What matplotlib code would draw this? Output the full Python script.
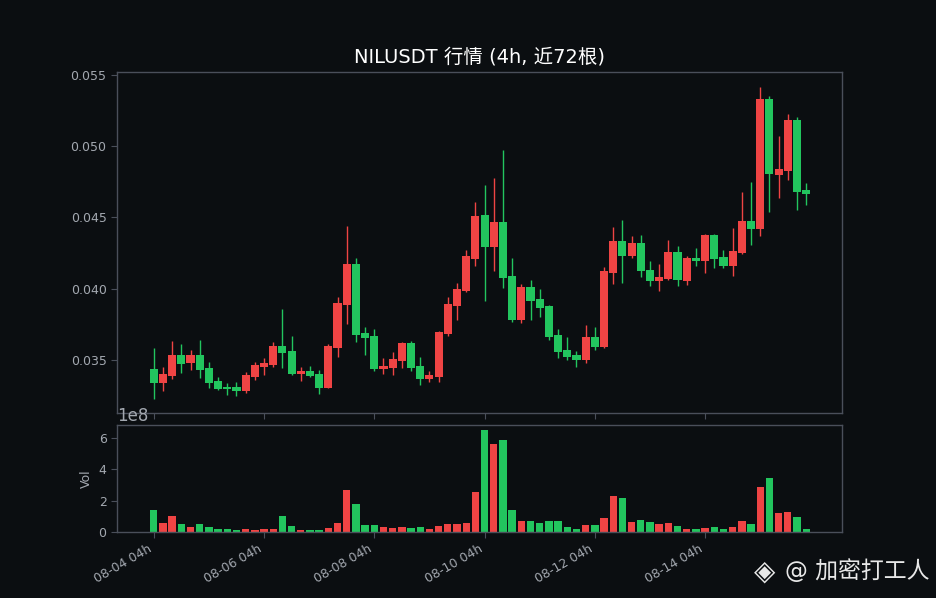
import matplotlib
matplotlib.use("Agg")
import matplotlib.pyplot as plt
import pandas as pd
import numpy as np

plt.rcParams['font.family'] = ['DejaVu Sans', 'Noto Sans CJK SC']

# ---- data ----
opens = [0.03437, 0.03341, 0.03390, 0.03535, 0.03481, 0.03535, 0.03444, 0.03353, 0.03311, 0.03311,
         0.03285, 0.03383, 0.03453, 0.03467, 0.03598, 0.03563, 0.03404, 0.03423, 0.03402, 0.03306,
         0.03586, 0.03888, 0.04174, 0.03690, 0.03668, 0.03439, 0.03446, 0.03495, 0.03619, 0.03458,
         0.03369, 0.03383, 0.03685, 0.03881, 0.03986, 0.04211, 0.04518, 0.04295, 0.04469, 0.04090,
         0.03783, 0.04012, 0.03928, 0.03879, 0.03675, 0.03570, 0.03535, 0.03502, 0.03661, 0.03593,
         0.04113, 0.04335, 0.04232, 0.04321, 0.04132, 0.04057, 0.04071, 0.04258, 0.04054, 0.04216,
         0.04195, 0.04377, 0.04223, 0.04160, 0.04251, 0.04476, 0.04421, 0.05332, 0.04800, 0.04829,
         0.05184, 0.04693]
highs = [0.03586, 0.03451, 0.03633, 0.03612, 0.03570, 0.03640, 0.03486, 0.03381, 0.03339, 0.03346,
         0.03416, 0.03486, 0.03514, 0.03626, 0.03858, 0.03668, 0.03451, 0.03458, 0.03432, 0.03612,
         0.03942, 0.04440, 0.04216, 0.03732, 0.03718, 0.03514, 0.03556, 0.03628, 0.03633, 0.03521,
         0.03425, 0.03704, 0.03942, 0.04040, 0.04272, 0.04609, 0.04728, 0.04777, 0.04974, 0.04216,
         0.04033, 0.04061, 0.03998, 0.03886, 0.03718, 0.03661, 0.03563, 0.03746, 0.03732, 0.04153,
         0.04433, 0.04483, 0.04370, 0.04377, 0.04195, 0.04174, 0.04342, 0.04300, 0.04230, 0.04286,
         0.04384, 0.04384, 0.04272, 0.04426, 0.04679, 0.04749, 0.05416, 0.05353, 0.05072, 0.05226,
         0.05205, 0.04742]
lows = [0.03228, 0.03285, 0.03369, 0.03411, 0.03432, 0.03376, 0.03306, 0.03289, 0.03256, 0.03249,
        0.03271, 0.03362, 0.03397, 0.03453, 0.03446, 0.03397, 0.03355, 0.03383, 0.03264, 0.03301,
        0.03523, 0.03755, 0.03628, 0.03537, 0.03425, 0.03404, 0.03397, 0.03446, 0.03425, 0.03327,
        0.03348, 0.03348, 0.03671, 0.03783, 0.03979, 0.04162, 0.03916, 0.04127, 0.04007, 0.03769,
        0.03762, 0.03783, 0.03804, 0.03642, 0.03516, 0.03502, 0.03453, 0.03481, 0.03572, 0.03586,
        0.04035, 0.04042, 0.04218, 0.04085, 0.04021, 0.03986, 0.04061, 0.04019, 0.04026, 0.04160,
        0.04111, 0.04146, 0.04146, 0.04090, 0.04244, 0.04307, 0.04372, 0.04541, 0.04639, 0.04765,
        0.04555, 0.04590]
closes = [0.03341, 0.03402, 0.03535, 0.03474, 0.03535, 0.03432, 0.03341, 0.03299, 0.03299, 0.03285,
          0.03395, 0.03465, 0.03479, 0.03598, 0.03551, 0.03404, 0.03423, 0.03390, 0.03306, 0.03598,
          0.03900, 0.04174, 0.03678, 0.03657, 0.03439, 0.03458, 0.03507, 0.03619, 0.03446, 0.03369,
          0.03397, 0.03697, 0.03893, 0.03998, 0.04230, 0.04511, 0.04295, 0.04469, 0.04078, 0.03783,
          0.04012, 0.03916, 0.03867, 0.03664, 0.03558, 0.03523, 0.03502, 0.03661, 0.03593, 0.04125,
          0.04335, 0.04232, 0.04321, 0.04127, 0.04057, 0.04083, 0.04258, 0.04061, 0.04216, 0.04195,
          0.04377, 0.04209, 0.04160, 0.04265, 0.04476, 0.04421, 0.05332, 0.04807, 0.04840, 0.05184,
          0.04681, 0.04667]
volumes_e8 = [1.40, 0.57, 1.02, 0.51, 0.32, 0.51, 0.32, 0.19, 0.19, 0.13,
              0.19, 0.13, 0.19, 0.19, 1.02, 0.38, 0.13, 0.13, 0.13, 0.26,
              0.57, 2.68, 1.79, 0.45, 0.45, 0.32, 0.26, 0.32, 0.26, 0.32,
              0.19, 0.38, 0.51, 0.51, 0.57, 2.55, 6.51, 5.62, 5.87, 1.40,
              0.70, 0.70, 0.57, 0.70, 0.70, 0.32, 0.19, 0.45, 0.45, 0.89,
              2.30, 2.17, 0.64, 0.77, 0.64, 0.51, 0.57, 0.38, 0.19, 0.19,
              0.26, 0.32, 0.19, 0.32, 0.70, 0.51, 2.87, 3.45, 1.21, 1.28,
              0.96, 0.19]
start_time = "2025-08-04 04:00"
title_text = "NILUSDT 行情 (4h, 近72根)"
watermark = "@ 加密打工人"

# ---- style ----
BG = "#0b0e11"
UP = "#ef4444"
DOWN = "#22c55e"
SPINE = "#4a4f5a"
TXT = "#a3a8b0"

o = np.array(opens); h = np.array(highs); l = np.array(lows); c = np.array(closes)
vol = np.array(volumes_e8) * 1e8
n = len(o)
x = np.arange(n)
dates = pd.date_range(start_time, periods=n, freq="4h")
up = c >= o
colors = np.where(up, UP, DOWN)

fig = plt.figure(figsize=(9.36, 5.98), dpi=100, facecolor=BG)
ax = fig.add_axes([0.125, 0.3094, 0.7746, 0.5702], facecolor=BG)
axv = fig.add_axes([0.125, 0.1104, 0.7746, 0.1789], facecolor=BG, sharex=ax)

ax.vlines(x, l, h, colors=colors, linewidth=1.0, zorder=2)
bottoms = np.minimum(o, c)
heights = np.abs(c - o)
ax.bar(x, heights, bottom=bottoms, width=0.88, color=colors, linewidth=0, zorder=3)

axv.bar(x, vol, width=0.8, color=colors, linewidth=0)

ax.set_xlim(-4.0, 74.9)
ax.set_ylim(0.03128, 0.05521)
axv.set_ylim(0, 6.83e8)
ax.set_yticks([0.035, 0.040, 0.045, 0.050, 0.055])
ax.set_yticklabels([f"{v:.3f}" for v in [0.035, 0.040, 0.045, 0.050, 0.055]])
axv.set_yticks([0, 2e8, 4e8, 6e8])

tick_idx = list(range(0, n, 12))
axv.set_xticks(tick_idx)
axv.set_xticklabels([dates[i].strftime("%m-%d %Hh") for i in tick_idx],
                    rotation=30, ha="right", rotation_mode="default")
plt.setp(ax.get_xticklabels(), visible=False)

for a in (ax, axv):
    for s in a.spines.values():
        s.set_color(SPINE)
        s.set_linewidth(1.0)
    a.tick_params(colors=TXT, labelsize=9, length=4, width=0.8, which="both")
    a.tick_params(axis="both", color=SPINE)

axv.yaxis.get_offset_text().set_color(TXT)
axv.yaxis.get_offset_text().set_fontsize(12)
axv.set_ylabel("Vol", color=TXT, fontsize=9)

ax.set_title(title_text, color="white", fontsize=14, pad=7)

fig.text(0.817, 0.045, "\u25c8", color="#e8e8e8", fontsize=20, ha="center", va="center",
         family="DejaVu Sans")
fig.text(0.993, 0.045, watermark, color="#e8e8e8", fontsize=16.5, ha="right", va="center")

fig.savefig("out.png", dpi=100, facecolor=BG)
